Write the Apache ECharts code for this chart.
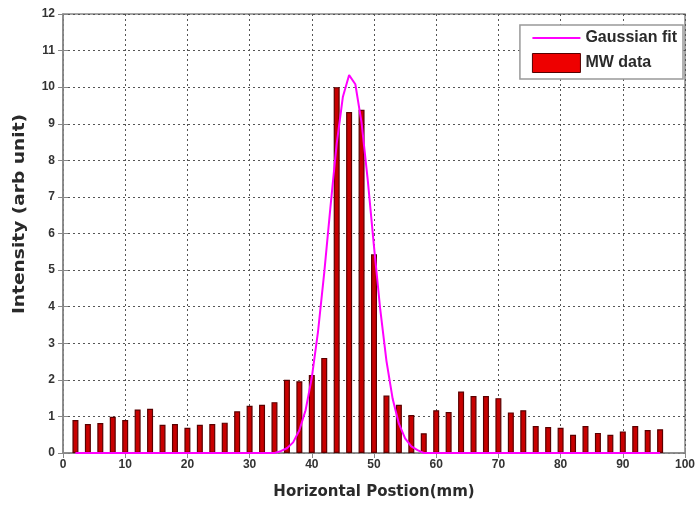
<!DOCTYPE html>
<html><head><meta charset="utf-8">
<script src="https://cdn.jsdelivr.net/npm/echarts@6/dist/echarts.min.js"></script>
<style>html,body{margin:0;padding:0;background:#fff}#c{width:700px;height:505px}</style>
</head><body><div id="c"></div>
<script>
// Bar data (MW data)
const barX = [2,4,6,8,10,12,14,16,18,20,22,24,26,28,30,32,34,36,38,40,42,44,46,48,50,52,54,56,58,60,62,64,66,68,70,72,74,76,78,80,82,84,86,88,90,92,94,96];
const barY = [0.9,0.79,0.82,0.99,0.9,1.19,1.21,0.77,0.79,0.69,0.77,0.79,0.83,1.14,1.29,1.32,1.39,2.0,1.96,2.13,2.6,10.0,9.32,9.38,5.43,1.57,1.32,1.04,0.54,1.17,1.12,1.68,1.56,1.56,1.5,1.11,1.17,0.74,0.71,0.69,0.5,0.74,0.55,0.5,0.59,0.74,0.63,0.65];
// Gaussian fit curve points
const fitX = [2,34,35,36,37,38,39,40,41,42,43,44,45,46,47,48,49,50,51,52,53,54,55,56,57,58,96];
const fitY = [0,0,0.05,0.13,0.29,0.62,1.17,2.06,3.32,4.93,6.73,8.45,9.74,10.33,10.08,9.03,7.45,5.64,3.93,2.52,1.48,0.8,0.4,0.18,0.08,0,0];
const xTicks = {min:0, max:100, interval:10};
const yTicks = {min:0, max:12, interval:1};
const xTitle = 'Horizontal Postion(mm)';
const yTitle = 'Intensity (arb unit)';

const chart = echarts.init(document.getElementById('c'), null, {renderer:'canvas'});
const font = '"Liberation Sans", Arial, sans-serif';
const wide = '"DejaVu Sans", sans-serif';
const gridLine = {show:true, lineStyle:{color:'#555', type:[2,3], width:1}};
chart.setOption({
  animation:false,
  backgroundColor:'#fff',
  grid:{left:63, right:15, top:14, bottom:52, show:true, borderColor:'#888', borderWidth:1.5, backgroundColor:'#fff'},
  graphic:[{type:'text', x:20, y:214, rotation:Math.PI/2, scaleX:1.24, scaleY:1,
    style:{text:yTitle, font:'bold 15px "DejaVu Sans", sans-serif', fill:'#2a2a2a', textAlign:'center', textVerticalAlign:'middle'}}],
  legend:{
    right:17, top:25, orient:'vertical', backgroundColor:'#fff', borderColor:'#999', borderWidth:1.5,
    padding:[5,6,6,12], itemGap:7, itemWidth:48, itemHeight:19,
    textStyle:{fontFamily:font, fontWeight:'bold', fontSize:16, color:'#2a2a2a'},
    data:[{name:'Gaussian fit', icon:'path://M0,7 L46,7 L46,9 L0,9 Z', itemStyle:{color:'#ff00ff'}},
          {name:'MW data', icon:'rect', itemStyle:{color:'#ee0000', borderColor:'#500', borderWidth:1}}]
  },
  xAxis:[{type:'value', min:xTicks.min, max:xTicks.max, interval:xTicks.interval,
    name:xTitle, nameLocation:'middle', nameGap:32,
    nameTextStyle:{fontFamily:wide, fontWeight:'bold', fontSize:15, color:'#2a2a2a'},
    axisLine:{show:true, lineStyle:{color:'#888', width:1.5}},
    axisTick:{show:true, inside:true, length:5, lineStyle:{color:'#888'}},
    axisLabel:{fontFamily:font, fontWeight:'bold', fontSize:12, color:'#333', margin:6},
    splitLine:gridLine},
   {type:'value', position:'top', min:xTicks.min, max:xTicks.max, interval:xTicks.interval,
    axisLine:{show:false}, axisTick:{show:true, inside:true, length:5, lineStyle:{color:'#888'}},
    axisLabel:{show:false}, splitLine:{show:false}}],
  yAxis:[{type:'value', min:yTicks.min, max:yTicks.max, interval:yTicks.interval,
    axisLine:{show:true, lineStyle:{color:'#888', width:1.5}},
    axisTick:{show:true, inside:true, length:5, lineStyle:{color:'#888'}},
    axisLabel:{fontFamily:font, fontWeight:'bold', fontSize:12, color:'#333', margin:8},
    splitLine:gridLine},
   {type:'value', position:'right', min:yTicks.min, max:yTicks.max, interval:yTicks.interval,
    axisLine:{show:false}, axisTick:{show:true, inside:true, length:5, lineStyle:{color:'#888'}},
    axisLabel:{show:false}, splitLine:{show:false}}],
  series:[
    {name:'MW data', type:'bar', barWidth:6, xAxisIndex:0, yAxisIndex:0,
     itemStyle:{color:'#c80000', borderColor:'#5a0000', borderWidth:1.2},
     data:barX.map((x,i)=>[x,barY[i]])},
    {name:'Gaussian fit', type:'line', symbol:'none', smooth:false, xAxisIndex:0, yAxisIndex:0,
     lineStyle:{color:'#ff00ff', width:2}, itemStyle:{color:'#ff00ff'}, z:3,
     data:fitX.map((x,i)=>[x,fitY[i]])}
  ]
});
</script></body></html>
